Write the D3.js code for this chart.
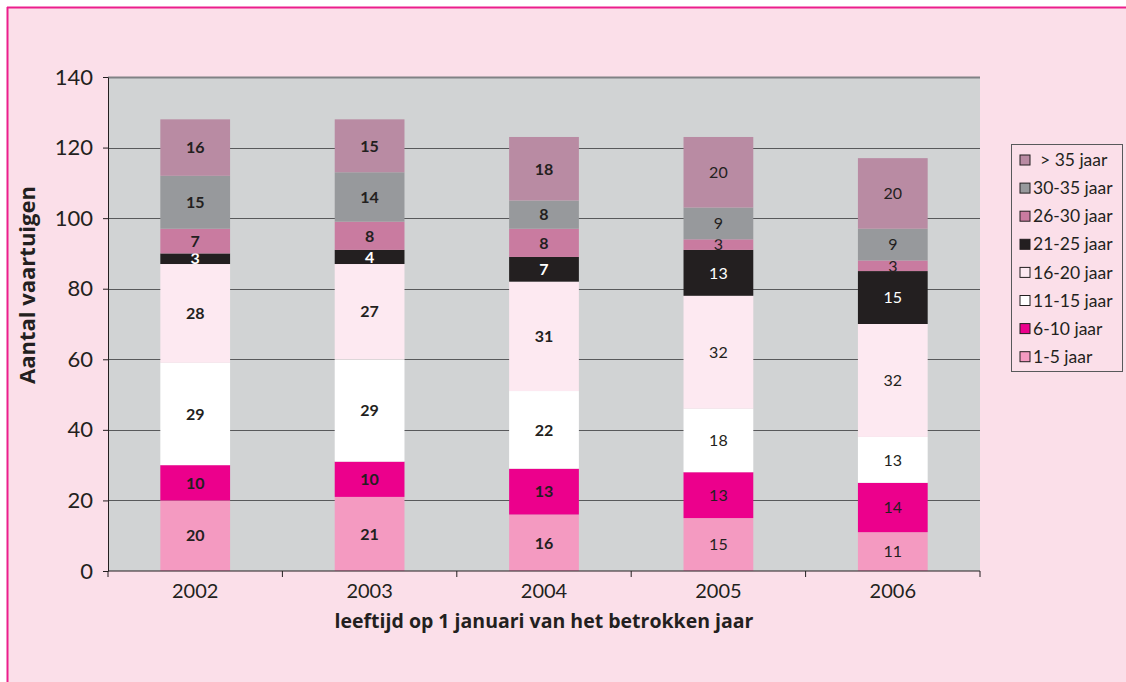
<!DOCTYPE html>
<html>
<head>
<meta charset="utf-8">
<script src="https://cdn.jsdelivr.net/npm/d3@7"></script>
<style>
  body { margin: 0; background: #fff; }
  svg { display: block; font-family: Lato, "Open Sans", sans-serif; }
</style>
</head>
<body>
<div id="chart"></div>
<script>
// years on the x axis
var years = ["2002", "2003", "2004", "2005", "2006"];
// age groups, bottom to top
var groups = ["1-5 jaar", "6-10 jaar", "11-15 jaar", "16-20 jaar", "21-25 jaar", "26-30 jaar", "30-35 jaar", "> 35 jaar"];
var colors = ["#f49ac1", "#ec008c", "#ffffff", "#fde9f1", "#231f20", "#c97ba0", "#97999c", "#b98ba3"];
// counts per year, in the order of groups
var v2002 = [20, 10, 29, 28, 3, 7, 15, 16];
var v2003 = [21, 10, 29, 27, 4, 8, 14, 15];
var v2004 = [16, 13, 22, 31, 7, 8, 8, 18];
var v2005 = [15, 13, 18, 32, 13, 3, 9, 20];
var v2006 = [11, 14, 13, 32, 15, 3, 9, 20];
var yTicks = [0, 20, 40, 60, 80, 100, 120, 140];

var values = [v2002, v2003, v2004, v2005, v2006];
var boldYears = ["2002", "2003", "2004"];

var W = 1126, H = 682;
var m = {left: 108, right: 146, top: 77, bottom: 111};
var iw = W - m.left - m.right, ih = H - m.top - m.bottom;

var svg = d3.select("#chart").append("svg")
    .attr("width", W).attr("height", H);

// page background with pink frame line
svg.append("rect").attr("x", 7).attr("y", 7).attr("width", W).attr("height", H)
    .attr("fill", "#fbdfe9");
svg.append("line").attr("x1", 7).attr("x2", W).attr("y1", 7.5).attr("y2", 7.5)
    .attr("stroke", "#ec1e8c").attr("stroke-width", 2);
svg.append("line").attr("x1", 7.5).attr("x2", 7.5).attr("y1", 7).attr("y2", H)
    .attr("stroke", "#ec1e8c").attr("stroke-width", 2);

var g = svg.append("g").attr("transform", "translate(" + m.left + "," + m.top + ")");

var x = d3.scaleBand().domain(years).range([0, iw]).paddingInner(0.6).paddingOuter(0.3);
var y = d3.scaleLinear().domain([0, 140]).range([ih, 0]);

g.append("rect").attr("width", iw).attr("height", ih).attr("fill", "#d1d3d4");

// gridlines
g.selectAll(".grid").data(yTicks.slice(1)).enter().append("line")
    .attr("x1", 0).attr("x2", iw)
    .attr("y1", function(d) { return Math.round(y(d)) + 0.5; })
    .attr("y2", function(d) { return Math.round(y(d)) + 0.5; })
    .attr("stroke", function(d) { return d == 140 ? "#808285" : "#58595b"; })
    .attr("stroke-width", function(d) { return d == 140 ? 2 : 1; });

// stacks
var table = years.map(function(yr, i) {
    var row = {year: yr};
    groups.forEach(function(k, j) { row[k] = values[i][j]; });
    return row;
});
var series = d3.stack().keys(groups)(table);

var layer = g.selectAll(".layer").data(series).enter().append("g")
    .attr("fill", function(d, i) { return colors[i]; });

layer.selectAll("rect").data(function(d) { return d; }).enter().append("rect")
    .attr("x", function(d) { return x(d.data.year); })
    .attr("width", x.bandwidth())
    .attr("y", function(d) { return y(d[1]); })
    .attr("height", function(d) { return y(d[0]) - y(d[1]); });

layer.each(function(s, i) {
    d3.select(this).selectAll("text").data(s).enter().append("text")
        .attr("x", function(d) { return x(d.data.year) + x.bandwidth() / 2; })
        .attr("y", function(d) { return y((d[0] + d[1]) / 2); })
        .attr("dy", "0.36em")
        .attr("text-anchor", "middle")
        .attr("font-size", 16)
        .attr("font-weight", function(d) { return boldYears.indexOf(d.data.year) >= 0 ? "bold" : "normal"; })
        .attr("fill", i == 4 ? "#ffffff" : "#231f20")
        .text(function(d) { return d[1] - d[0]; });
});

// y axis
var yAxis = g.append("g").call(d3.axisLeft(y).tickValues(yTicks).tickSize(5).tickSizeOuter(0));
yAxis.select(".domain").attr("stroke", "#231f20");
yAxis.selectAll(".tick line").attr("stroke", "#231f20");
yAxis.selectAll("text").attr("font-size", 22).attr("fill", "#231f20")
    .attr("x", -15).attr("font-family", "Lato, sans-serif");

// x axis with ticks on the category boundaries
var xAxis = g.append("g").attr("transform", "translate(0," + ih + ")");
xAxis.append("line").attr("x1", 0).attr("x2", iw).attr("stroke", "#231f20");
xAxis.selectAll(".xt").data(d3.range(years.length + 1)).enter().append("line")
    .attr("x1", function(i) { return i * iw / years.length; })
    .attr("x2", function(i) { return i * iw / years.length; })
    .attr("y1", 0).attr("y2", 6).attr("stroke", "#231f20");
xAxis.selectAll(".xl").data(years).enter().append("text")
    .attr("x", function(d) { return x(d) + x.bandwidth() / 2; })
    .attr("y", 27)
    .attr("text-anchor", "middle")
    .attr("font-size", 20).attr("fill", "#231f20")
    .text(function(d) { return d; });

// axis titles
svg.append("text")
    .attr("x", m.left + iw / 2).attr("y", 628)
    .attr("text-anchor", "middle")
    .attr("font-family", "'Open Sans', sans-serif")
    .attr("font-size", 19.5).attr("font-weight", "bold").attr("fill", "#231f20")
    .text("leeftijd op 1 januari van het betrokken jaar");
svg.append("text")
    .attr("transform", "translate(35,285) rotate(-90)")
    .attr("text-anchor", "middle")
    .attr("font-family", "'Open Sans', sans-serif")
    .attr("font-size", 22).attr("font-weight", "bold").attr("fill", "#231f20")
    .text("Aantal vaartuigen");

// legend, top item is the last group
var lg = svg.append("g").attr("transform", "translate(1011,144)");
lg.append("rect").attr("x", 0.5).attr("y", 0.5).attr("width", 111).attr("height", 227)
    .attr("fill", "#fbdfe9").attr("stroke", "#58595b");
var items = groups.slice().reverse();
var itemColors = colors.slice().reverse();
var li = lg.selectAll(".li").data(items).enter().append("g")
    .attr("transform", function(d, i) { return "translate(9," + (16 + i * 28.1) + ")"; });
li.append("rect").attr("x", 0).attr("y", -5).attr("width", 10).attr("height", 10)
    .attr("fill", function(d, i) { return itemColors[i]; })
    .attr("stroke", "#231f20").attr("stroke-width", 1);
li.append("text").attr("x", function(d, i) { return i == 0 ? 20 : 13; }).attr("dy", "0.35em")
    .attr("font-size", 17.5).attr("fill", "#231f20")
    .text(function(d) { return d; });
</script>
</body>
</html>
